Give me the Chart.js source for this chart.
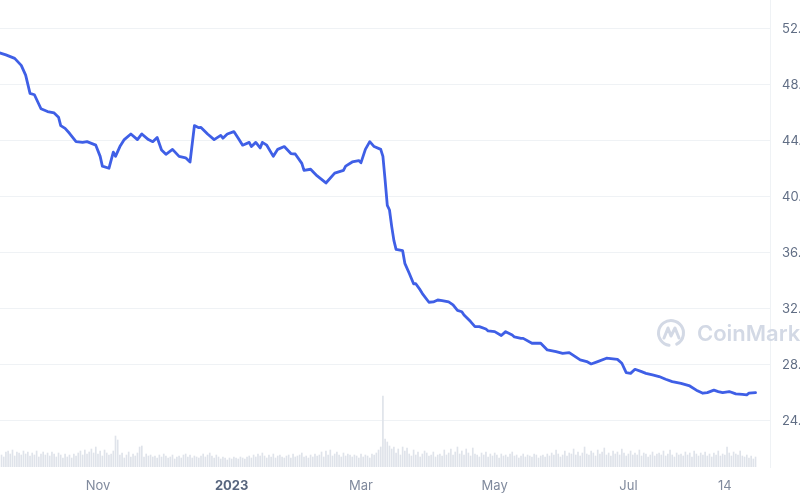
<!DOCTYPE html>
<html lang="en">
<head>
    <meta charset="UTF-8">
    <title>Price chart</title>
    <script src="https://cdn.jsdelivr.net/npm/chart.js"></script>
    <style>
        body {
            margin: 0;
            background: #fff;
        }
        #wrap {
            width: 800px;
            height: 500px;
            overflow: hidden;
        }
    </style>
</head>
<body>
    <div id="wrap">
        <canvas id="priceChart" width="800" height="500"></canvas>
    </div>

    <script>
        // x values are days counted from 1 Nov 2022
        const priceDays = [
            -45, -42, -38, -35, -33, -31, -29, -26, -23, -20, -18, -17, -15, -13, -10, -7, -5, -1,
            1, 2, 5, 7, 8, 10, 12, 15, 18, 20, 23, 25, 27, 29, 31, 34, 37, 40, 42, 44, 46, 47,
            50, 53, 56, 57, 59, 62, 64, 66, 69, 70, 72, 74, 75, 77, 80, 82, 85, 88, 90, 93,
            94, 97, 100, 104, 108, 112, 113, 116, 119, 120, 122, 124, 126, 129, 130, 131, 132, 133, 134, 135,
            136, 139, 140, 142, 144, 145, 147, 148, 151, 153, 155, 157, 160, 162, 164, 166, 167, 170, 172, 174,
            177, 178, 181, 184, 186, 189, 190, 193, 194, 198, 202, 205, 209, 212, 215, 220, 223, 225, 228, 232,
            237, 239, 241, 243, 245, 248, 250, 253, 256, 259, 262, 266, 270, 273, 276, 278, 281, 283, 285, 288,
            291, 294, 296, 297, 300
        ];
        const prices = [
            50.30, 50.15, 49.90, 49.40, 48.70, 47.40, 47.30, 46.30, 46.10, 46.00, 45.70, 45.10, 44.90, 44.55, 43.95, 43.90, 43.95, 43.70,
            42.90, 42.20, 42.05, 43.20, 42.90, 43.60, 44.10, 44.50, 44.10, 44.50, 44.10, 43.95, 44.25, 43.35, 43.05, 43.40, 42.90, 42.80, 42.50, 45.10, 44.95, 44.97,
            44.50, 44.10, 44.40, 44.20, 44.50, 44.67, 44.20, 43.70, 43.90, 43.60, 43.90, 43.50, 43.90, 43.70, 42.90, 43.40, 43.60, 43.10, 43.07, 42.40,
            41.90, 41.98, 41.50, 41.00, 41.70, 41.90, 42.20, 42.50, 42.60, 42.45, 43.40, 43.95, 43.60, 43.40, 42.90, 41.20, 39.40, 39.07, 37.90, 36.90,
            36.26, 36.16, 35.26, 34.55, 33.80, 33.80, 33.36, 33.10, 32.48, 32.50, 32.64, 32.60, 32.50, 32.29, 31.90, 31.80, 31.57, 31.10, 30.74, 30.74,
            30.57, 30.43, 30.38, 30.10, 30.38, 30.14, 30.00, 29.90, 29.90, 29.55, 29.55, 29.07, 28.95, 28.83, 28.88, 28.36, 28.24, 28.07, 28.24, 28.48,
            28.40, 28.12, 27.45, 27.40, 27.69, 27.52, 27.40, 27.29, 27.17, 26.98, 26.81, 26.69, 26.50, 26.20, 25.98, 26.02, 26.20, 26.10, 26.02, 26.10,
            25.93, 25.90, 25.86, 25.98, 26.02
        ];

        // daily volume, first bar is day -44
        const volStartDay = -44;
        const volumes = [
            12, 10, 15, 16, 13, 17, 11, 15, 14, 12,
            16, 13, 15, 11, 14, 12, 16, 10, 13, 15,
            12, 14, 11, 15, 13, 10, 14, 12, 9, 13,
            10, 12, 9, 13, 11, 14, 16, 12, 17, 13,
            15, 18, 14, 20, 13, 16, 11, 17, 14, 12,
            13, 16, 31, 27, 12, 14, 9, 12, 15, 10,
            13, 11, 14, 20, 21, 10, 13, 11, 12, 10,
            11, 9, 12, 10, 13, 11, 9, 10, 12, 8,
            10, 11, 9, 12, 13, 10, 12, 9, 11, 10,
            9, 11, 13, 10, 12, 14, 11, 9, 12, 10,
            8, 10, 9, 7, 9, 8, 10, 9, 8, 10,
            9, 8, 10, 11, 9, 12, 10, 13, 11, 14,
            11, 9, 12, 10, 13, 9, 11, 12, 10, 9,
            11, 12, 9, 13, 10, 11, 12, 14, 10, 11,
            9, 12, 10, 13, 11, 12, 15, 10, 16, 12,
            17, 11, 13, 15, 12, 10, 14, 11, 13, 12,
            10, 12, 11, 9, 13, 10, 12, 11, 9, 13,
            12, 14, 17, 20, 71, 28, 25, 21, 18, 20,
            14, 18, 12, 20, 16, 19, 13, 11, 17, 12,
            15, 10, 13, 16, 14, 11, 12, 15, 10, 12,
            13, 11, 17, 12, 14, 18, 12, 15, 20, 13,
            16, 12, 18, 14, 11, 19, 13, 12, 10, 14,
            12, 15, 10, 13, 11, 14, 12, 9, 13, 11,
            12, 10, 13, 15, 11, 12, 9, 11, 13, 10,
            12, 11, 10, 13, 12, 9, 11, 12, 10, 13,
            11, 14, 12, 17, 13, 10, 12, 16, 11, 14,
            13, 18, 12, 15, 11, 14, 20, 13, 12, 16,
            14, 11, 17, 13, 15, 19, 12, 14, 11, 16,
            13, 15, 12, 18, 14, 11, 13, 16, 12, 14,
            12, 17, 11, 14, 13, 10, 12, 15, 11, 13,
            14, 12, 16, 11, 13, 17, 12, 10, 14, 12,
            13, 11, 15, 12, 14, 10, 16, 13, 11, 14,
            12, 15, 11, 13, 10, 14, 12, 16, 11, 13,
            12, 20, 14, 11, 15, 13, 12, 16, 11, 10,
            12, 9, 11, 8, 10
        ];

        const xTickDays = [0, 61, 120, 181, 242, 286];
        const xTickLabels = ['Nov', '2023', 'Mar', 'May', 'Jul', '14'];
        const yTicks = [24, 28, 32, 36, 40, 44, 48, 52];

        const priceData = priceDays.map((d, i) => ({ x: d, y: prices[i] }));
        const volData = volumes.map((v, i) => ({ x: volStartDay + i, y: v }));

        // faint CoinMarketCap mark behind the line
        const watermark = {
            id: 'watermark',
            beforeDatasetsDraw(chart) {
                const ctx = chart.ctx;
                ctx.save();
                ctx.strokeStyle = '#d3d9e5';
                ctx.fillStyle = '#d3d9e5';
                ctx.lineWidth = 3;
                ctx.lineCap = 'round';
                ctx.lineJoin = 'round';
                const cx = 671, cy = 333, r = 12.5;
                ctx.beginPath();
                ctx.arc(cx, cy, r, Math.PI * 0.55, Math.PI * 2.35);
                ctx.stroke();
                ctx.beginPath();
                ctx.moveTo(cx - 7, cy + 5);
                ctx.lineTo(cx - 3, cy - 5);
                ctx.lineTo(cx, cy + 3);
                ctx.lineTo(cx + 4, cy - 5);
                ctx.lineTo(cx + 8, cy + 5);
                ctx.stroke();
                ctx.font = '600 22px Inter, "Noto Sans", sans-serif';
                ctx.textBaseline = 'middle';
                ctx.fillText('CoinMarketCap', 697, cy + 1);
                ctx.restore();
            }
        };

        const ctx = document.getElementById('priceChart').getContext('2d');
        new Chart(ctx, {
            data: {
                datasets: [
                    {
                        type: 'line',
                        data: priceData,
                        yAxisID: 'y',
                        borderColor: '#3f5fe6',
                        borderWidth: 2.8,
                        pointRadius: 0,
                        tension: 0,
                        borderJoinStyle: 'round',
                        borderCapStyle: 'round',
                        order: 0
                    },
                    {
                        type: 'bar',
                        data: volData,
                        yAxisID: 'yv',
                        backgroundColor: '#dfe3ea',
                        barThickness: 1,
                        grouped: false,
                        order: 1
                    }
                ]
            },
            options: {
                responsive: false,
                animation: false,
                layout: { padding: 0 },
                plugins: {
                    legend: { display: false },
                    tooltip: { enabled: false }
                },
                scales: {
                    x: {
                        type: 'linear',
                        offset: false,
                        min: -44.7,
                        max: 306.6,
                        grid: { display: false, drawTicks: false, offset: false },
                        border: { display: false },
                        afterBuildTicks: function(scale) {
                            scale.ticks = xTickDays.map(v => ({ value: v }));
                        },
                        afterFit: function(scale) {
                            scale.height = 33;
                            scale.paddingLeft = 0;
                            scale.paddingRight = 0;
                        },
                        ticks: {
                            padding: 11,
                            maxRotation: 0,
                            autoSkip: false,
                            callback: function(value) {
                                const i = xTickDays.indexOf(value);
                                return i >= 0 ? xTickLabels[i] : '';
                            },
                            color: function(c) {
                                return c.tick && c.tick.value === 61 ? '#58667e' : '#808a9d';
                            },
                            font: function(c) {
                                const bold = c.tick && c.tick.value === 61;
                                return { family: 'Inter, "Noto Sans", sans-serif', size: 13, weight: bold ? '700' : '400' };
                            }
                        }
                    },
                    y: {
                        position: 'right',
                        min: 20.71,
                        max: 54.07,
                        grid: { color: '#eff2f5', drawTicks: false },
                        border: { display: true, color: '#eff2f5' },
                        afterBuildTicks: function(scale) {
                            scale.ticks = yTicks.map(v => ({ value: v }));
                        },
                        afterFit: function(scale) {
                            scale.width = 30;
                            scale.paddingTop = 0;
                            scale.paddingBottom = 0;
                        },
                        ticks: {
                            padding: 12,
                            color: '#616e85',
                            font: { family: 'Inter, "Noto Sans", sans-serif', size: 13 },
                            callback: function(value) {
                                return value.toFixed(2);
                            }
                        }
                    },
                    yv: {
                        display: false,
                        min: 0,
                        max: 467
                    }
                }
            },
            plugins: [watermark]
        });
    </script>
</body>
</html>
